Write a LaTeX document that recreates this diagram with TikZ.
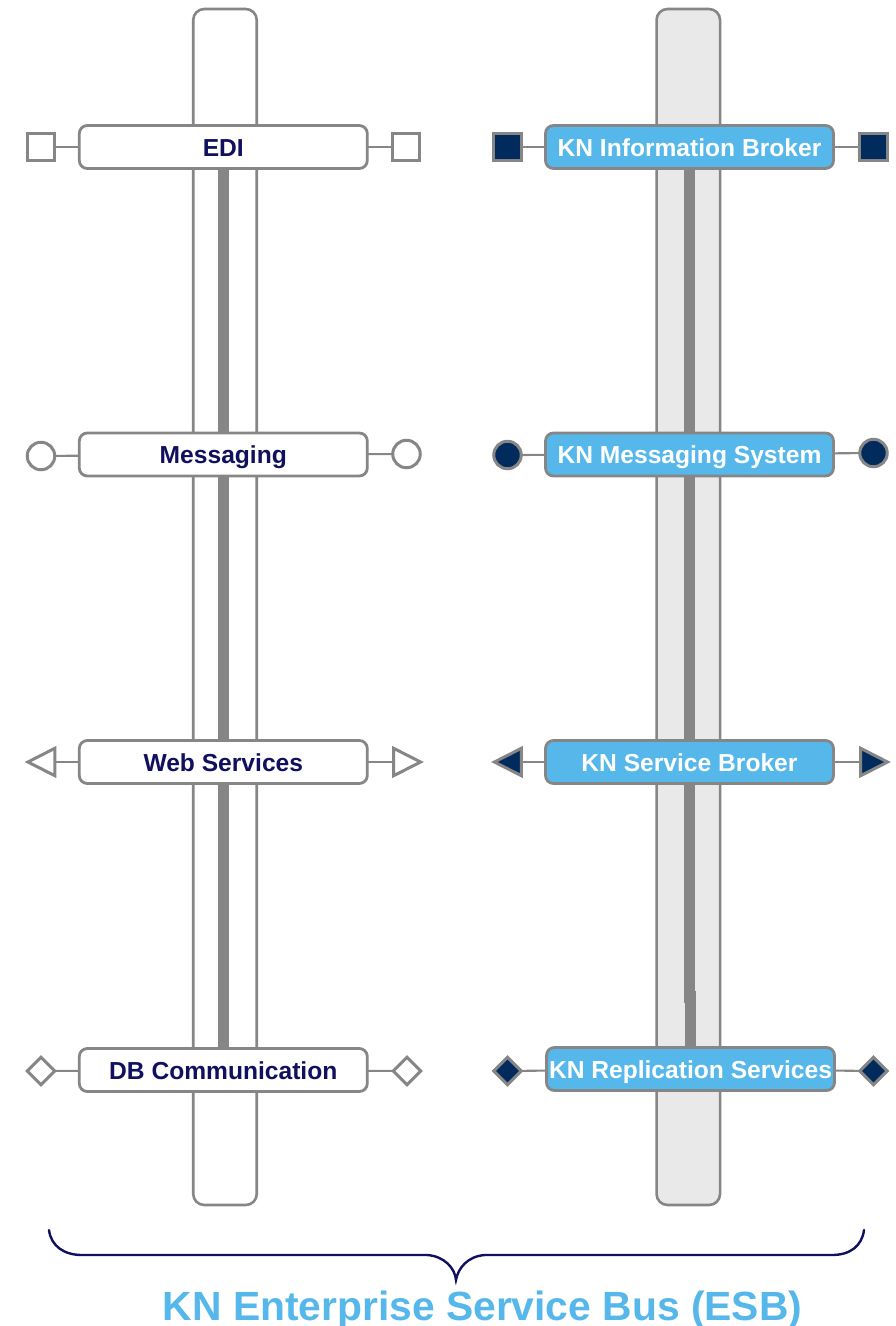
\documentclass[tikz,border=0pt]{standalone}
\usepackage{fontspec}
\setmainfont{Liberation Sans}
\usetikzlibrary{shapes.geometric,backgrounds}
\definecolor{edgegray}{HTML}{868686}
\definecolor{navytext}{HTML}{10105E}
\definecolor{skyblue}{HTML}{55B7EA}
\definecolor{deepblue}{HTML}{002B5C}
\definecolor{tubegray}{HTML}{E9E9E9}
\tikzset{
  tube/.style={draw=edgegray,line width=2.6pt,rounded corners=11pt,minimum width=63.5pt,minimum height=1196pt,inner sep=0pt,outer sep=0pt},
  busbar/.style={draw=edgegray,line width=11.6pt},
  svcbox/.style={draw=edgegray,line width=2.8pt,rounded corners=8pt,minimum width=288pt,minimum height=43pt,inner sep=0pt,outer sep=0pt,
    font=\bfseries\fontsize{24.6}{28}\selectfont,text height=18pt,text depth=0pt},
  openbox/.style={svcbox,fill=white,text=navytext},
  kernbox/.style={svcbox,fill=skyblue,text=white},
  linkline/.style={draw=edgegray,line width=2.1pt},
  markshape/.style={draw=edgegray,line width=3pt,inner sep=0pt,outer sep=0pt},
  openmark/.style={markshape,fill=white},
  kernmark/.style={markshape,fill=deepblue},
  sq/.style={rectangle,minimum size=27.5pt},
  circ/.style={circle,minimum size=27.5pt},
  diam/.style={diamond,minimum size=27.5pt},
  triL/.style={isosceles triangle,isosceles triangle stretches,shape border rotate=180,minimum width=27.5pt,minimum height=27pt},
  triR/.style={isosceles triangle,isosceles triangle stretches,shape border rotate=0,minimum width=27.5pt,minimum height=27pt},
  bracket/.style={draw=navytext,line width=2.4pt,line cap=round},
  titletext/.style={text=skyblue,font=\bfseries\fontsize{40.8}{44}\selectfont,inner sep=0pt,anchor=base}
}
\begin{document}
\begin{tikzpicture}[x=1pt,y=-1pt]
\useasboundingbox (0,0) rectangle (896,1326);
% left column
\node[openbox] (edi) at (223.3,147) {EDI};
\node[openbox] (msg) at (223.3,454.5) {Messaging};
\node[openbox] (web) at (223.3,762) {Web Services};
\node[openbox] (db) at (223.3,1070) {DB Communication};
% right column
\node[kernbox] (info) at (689.5,147) {KN Information Broker};
\node[kernbox] (kmsg) at (689.5,454.5) {KN Messaging System};
\node[kernbox] (svc) at (689.5,762) {KN Service Broker};
\node[kernbox] (rep) at (690.5,1069) {KN Replication Services};
% marks left
\node[openmark,sq] (m1l) at (41,147) {};
\node[openmark,sq] (m1r) at (406,147) {};
\node[openmark,circ] (m2l) at (41,456) {};
\node[openmark,circ] (m2r) at (406.5,454) {};
\node[openmark,triL] (m3l) at (46.5,762) {};
\node[openmark,triR] (m3r) at (402,762) {};
\node[openmark,diam] (m4l) at (41,1071) {};
\node[openmark,diam] (m4r) at (407,1071) {};
% marks right
\node[kernmark,sq] (k1l) at (507.5,147) {};
\node[kernmark,sq] (k1r) at (873.5,147) {};
\node[kernmark,circ] (k2l) at (507.5,455) {};
\node[kernmark,circ] (k2r) at (873.5,453) {};
\node[kernmark,triL] (k3l) at (513,762) {};
\node[kernmark,triR] (k3r) at (869,762) {};
\node[kernmark,diam] (k4l) at (507.5,1071) {};
\node[kernmark,diam] (k4r) at (873.5,1071) {};
% connectors
\foreach \a/\b in {m1l/edi,edi/m1r,m2l/msg,msg/m2r,m3l/web,web/m3r,m4l/db,db/m4r,
                   k1l/info,info/k1r,k2l/kmsg,kmsg/k2r,k3l/svc,svc/k3r,k4l/rep,rep/k4r}
  \draw[linkline] (\a) -- (\b);
% tubes and bars behind
\begin{scope}[on background layer]
  \node[tube,fill=white] (tubeL) at (225,607) {};
  \node[tube,fill=tubegray] (tubeR) at (688.3,607) {};
  \draw[busbar] (edi.south) -- (msg.north);
  \draw[busbar] (msg.south) -- (web.north);
  \draw[busbar] (web.south) -- (db.north);
  \draw[busbar] (info.south) -- (kmsg.north);
  \draw[busbar] (kmsg.south) -- (svc.north);
  \coordinate (jog) at (0,997);
  \draw[busbar] (svc.south) -- (svc.south |- jog) -- (rep.north |- jog) -- (rep.north);
\end{scope}
% brace
\coordinate (bl) at (49,1230);
\coordinate (br) at (864,1230);
\coordinate (tip) at (456,1280);
\draw[bracket] (bl) .. controls (51,1246) and (64,1255) .. (82,1255) -- (427,1255)
  .. controls (444,1256) and (455,1268) .. (tip)
  .. controls (458,1268) and (468,1256) .. (485,1255) -- (832,1255)
  .. controls (850,1255) and (862,1246) .. (br);
\node[titletext] (esb) at (482.5,1320.5) {KN Enterprise Service Bus (ESB)};
\end{tikzpicture}
\end{document}
